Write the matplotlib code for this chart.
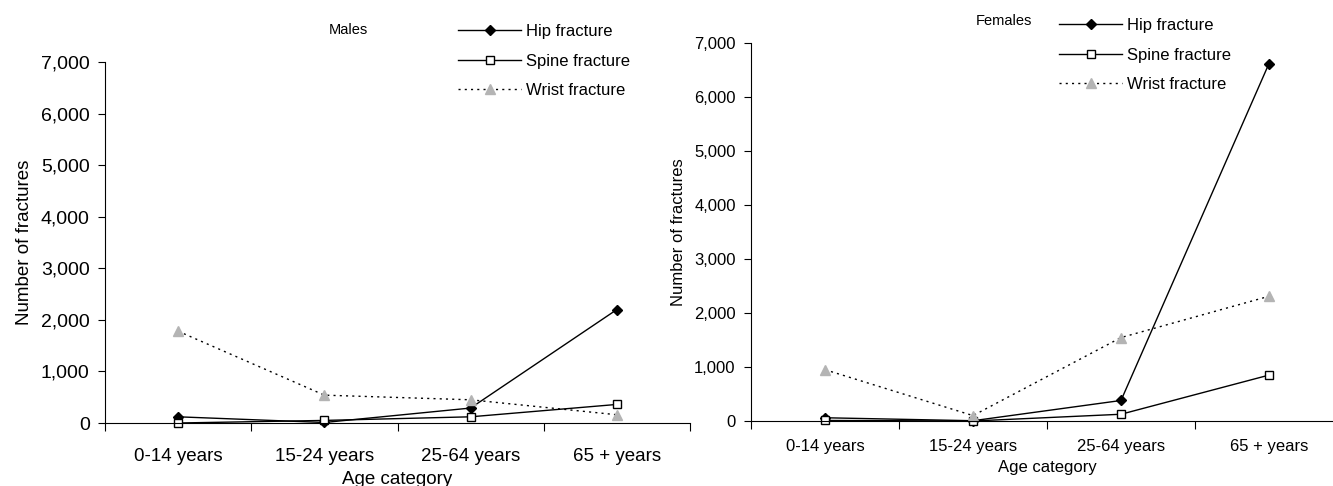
import numpy as np
import matplotlib.pyplot as plt

plt.rcParams['font.family'] = ['Liberation Sans', 'DejaVu Sans']

categories = ["0-14 years", "15-24 years", "25-64 years", "65 + years"]
series_names = ["Hip fracture", "Spine fracture", "Wrist fracture"]

males_hip = [120, 10, 290, 2200]
males_spine = [0, 50, 120, 360]
males_wrist = [1780, 540, 450, 160]

females_hip = [60, 5, 380, 6620]
females_spine = [10, 0, 125, 850]
females_wrist = [950, 100, 1545, 2310]

styles = [
    dict(color="black", linestyle="-", marker="D", markersize=5.5, markerfacecolor="black", markeredgecolor="black"),
    dict(color="black", linestyle="-", marker="s", markersize=6, markerfacecolor="white", markeredgecolor="black"),
    dict(color="black", linestyle=(0, (1.5, 3)), marker="^", markersize=7, markerfacecolor="#b4b4b4", markeredgecolor="#b4b4b4"),
]

fig = plt.figure(figsize=(13.33, 4.86), dpi=100)


def draw_panel(rect, values, title, title_xy, legend_xy, ytick_size, text_size, tick_pad, xlabel_pad):
    ax = fig.add_axes(rect)
    x = np.arange(len(categories)) + 0.5
    handles = []
    for vals, st, name in zip(values, styles, series_names):
        h, = ax.plot(x, vals, linewidth=1.0, label=name, clip_on=False, **st)
        handles.append(h)
    ax.set_xlim(0, 4)
    ax.set_ylim(0, 7000)
    ax.set_yticks(np.arange(0, 7001, 1000))
    ax.set_yticklabels([f"{v:,}" for v in range(0, 7001, 1000)], fontsize=ytick_size)
    ax.set_xticks(np.arange(0, 5))
    ax.set_xticklabels([])
    ax.set_xticks(x, minor=True)
    ax.set_xticklabels(categories, minor=True, fontsize=text_size)
    ax.tick_params(axis="x", which="minor", length=0, pad=tick_pad)
    ax.tick_params(axis="x", which="major", length=6, direction="out")
    ax.tick_params(axis="y", length=5, direction="out", pad=6)
    for s in ["top", "right"]:
        ax.spines[s].set_visible(False)
    ax.set_xlabel("Age category", fontsize=text_size, labelpad=xlabel_pad)
    ax.set_ylabel("Number of fractures", fontsize=text_size, labelpad=6)
    fig.text(title_xy[0], title_xy[1], title, fontsize=10.5, ha="center", va="center")
    fig.legend(handles=handles, loc="upper left", bbox_to_anchor=legend_xy, frameon=False,
               fontsize=12, handlelength=3.8, labelspacing=0.88, handletextpad=0.3,
               borderaxespad=0, borderpad=0)
    return ax


draw_panel([105 / 1333, 1 - 423 / 486, 585 / 1333, 361 / 486],
           [males_hip, males_spine, males_wrist], "Males",
           (348 / 1333, 1 - 30 / 486), (458 / 1333, 1 - 24 / 486), 14, 13.5, 18, 4)
draw_panel([751 / 1333, 1 - 421 / 486, 592 / 1333, 378 / 486],
           [females_hip, females_spine, females_wrist], "Females",
           (1004 / 1333, 1 - 21 / 486), (1059 / 1333, 1 - 18 / 486), 12, 12, 13, 4)

fig.savefig("out.png", dpi=100)
